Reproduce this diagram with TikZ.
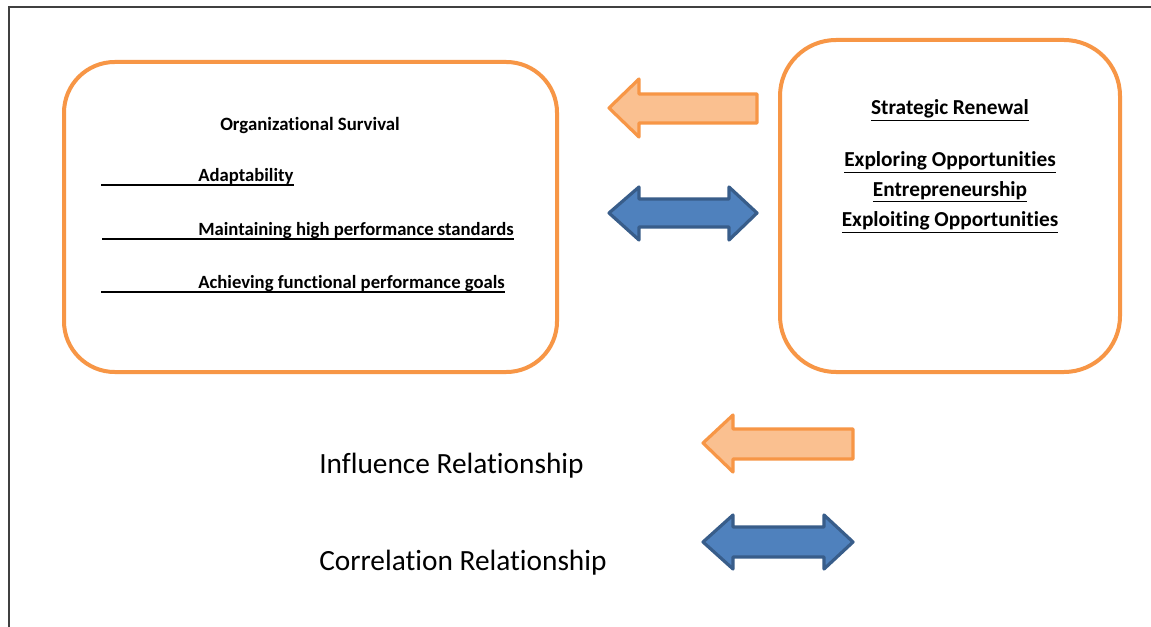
\documentclass[tikz,border=0pt]{standalone}
\usepackage{fontspec}
\setmainfont{Carlito}[Ligatures=NoCommon]
\usetikzlibrary{calc}
\definecolor{boxorange}{HTML}{F79646}
\definecolor{lightorange}{HTML}{FAC090}
\definecolor{arrowblue}{HTML}{4F81BD}
\definecolor{darkblue}{HTML}{385D8A}
\newcommand{\ulbold}[1]{\underline{#1}}
\begin{document}
\begin{tikzpicture}[x=0.75pt,y=-0.75pt,
  panel/.style={draw=boxorange,line width=3pt,rounded corners=#1},
  influence/.style={draw=boxorange,fill=lightorange,line width=2.4pt,line join=round},
  correlation/.style={draw=darkblue,fill=arrowblue,line width=2.4pt,line join=round},
  headtext/.style={font=\fontsize{14.1}{17}\selectfont\bfseries,inner sep=0pt},
  listtext/.style={font=\fontsize{14}{17}\selectfont\bfseries,inner sep=0pt,anchor=base west},
  renewtext/.style={font=\fontsize{16}{19}\selectfont\bfseries,inner sep=0pt},
  legendtext/.style={font=\fontsize{22}{26}\selectfont,inner sep=0pt,anchor=west},
  uline/.style={line width=1.3pt}]
\useasboundingbox (0,0) rectangle (1151,627);
\fill[white] (0,0) rectangle (1151,627);
% page frame
\draw[line width=1.2pt,black!75] (9,627) -- (9,7) -- (1151,7);

% left panel
\draw[panel=38pt] (64,62) rectangle (557,372);
\node[headtext] (surv) at (310,125) {Organizational Survival};
\node[listtext] (l1) at (198,182) {Adaptability};
\node[listtext] (l2) at (198,235) {Maintaining high performance standards};
\node[listtext] (l3) at (198,288) {Achieving functional performance goals};
\coordinate (u1) at (101,185);
\coordinate (u2) at (102,239);
\coordinate (u3) at (101,292);
\draw[uline] (u1) -- (u1 -| l1.east);
\draw[uline] (u2) -- (u2 -| l2.east);
\draw[uline] (u3) -- (u3 -| l3.east);

% right panel
\draw[panel=42pt] (780,40) rectangle (1120,372);
\node[renewtext] (sr) at (950,110) {\ulbold{Strategic Renewal}};
\node[renewtext] (r1) at (950,162) {\ulbold{Exploring Opportunities}};
\node[renewtext] (r2) at (950,192) {\ulbold{Entrepreneurship}};
\node[renewtext] (r3) at (950,222) {\ulbold{Exploiting Opportunities}};

% arrows between the panels
\draw[influence] (609,108) -- (639,79) -- (639,94) -- (757,94) -- (757,123)
  -- (639,123) -- (639,137) -- cycle;
\draw[correlation] (609,213) -- (639,187) -- (639,199) -- (729,199) -- (729,187)
  -- (757,213) -- (729,240) -- (729,227) -- (639,227) -- (639,240) -- cycle;

% legend
\draw[influence] (703,443) -- (733,415) -- (733,429) -- (853,429) -- (853,459)
  -- (733,459) -- (733,472) -- cycle;
\draw[correlation] (703,542) -- (733,515) -- (733,527) -- (824,527) -- (824,515)
  -- (853,542) -- (824,569) -- (824,557) -- (733,557) -- (733,569) -- cycle;
\node[legendtext] (infl) at (319,466) {Influence Relationship};
\node[legendtext] (corr) at (319,563) {Correlation Relationship};
\end{tikzpicture}
\end{document}
